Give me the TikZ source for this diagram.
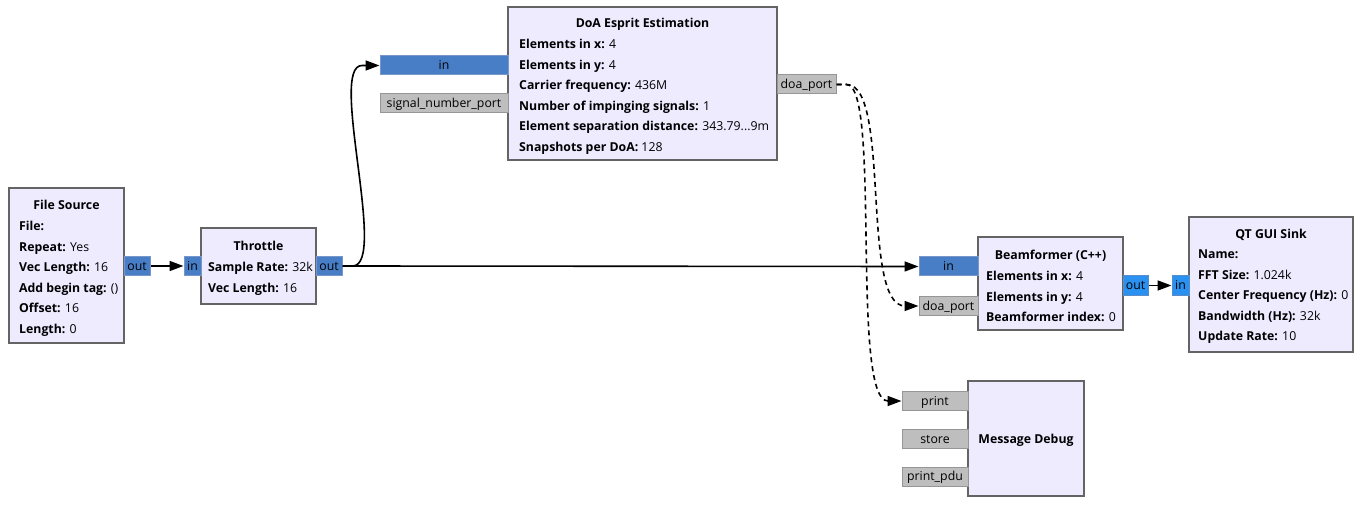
\documentclass[tikz,border=0pt]{standalone}
\usepackage{fontspec}
\setmainfont{Open Sans}
\usetikzlibrary{arrows.meta}
\definecolor{blockfill}{RGB}{238,235,255}
\definecolor{blockdraw}{RGB}{100,100,100}
\definecolor{vecblue}{RGB}{72,126,198}
\definecolor{vecbluedraw}{RGB}{120,150,200}
\definecolor{cblue}{RGB}{42,145,240}
\definecolor{cbluedraw}{RGB}{90,140,200}
\definecolor{msggrey}{RGB}{190,190,190}
\definecolor{msggreydraw}{RGB}{150,150,150}
\tikzset{
  txt/.style={font=\fontsize{12.3}{20.5}\selectfont},
  blockbox/.style={draw=blockdraw, fill=blockfill, line width=1.5pt, rectangle, inner sep=0},
  title/.style={font=\fontsize{12.3}{20.5}\selectfont\bfseries, inner sep=0, anchor=base},
  body/.style={txt, align=left, anchor=north west, inner sep=0},
  port/.style={line width=1pt, inner sep=0, minimum height=19, txt, text height=9.5, text depth=1.5},
  portv/.style={port, draw=vecbluedraw, fill=vecblue},
  portc/.style={port, draw=cbluedraw, fill=cblue},
  portm/.style={port, draw=msggreydraw, fill=msggrey},
  conn/.style={line width=1.6pt, -{Triangle[length=14,width=10]}},
  msgconn/.style={conn, dash pattern=on 5pt off 4pt},
}
\begin{document}
\begin{tikzpicture}[x=1pt,y=-1pt]
\useasboundingbox (0,0) rectangle (1358,505);
% File Source
\node[blockbox, minimum width=115, minimum height=155] (fs) at (66.5,265.5) {};
\node[title] (fst) at (66.5,209.5) {File Source};
\node[body] (fsb) at (19,221) {\textbf{File:}\\\textbf{Repeat:} Yes\\\textbf{Vec Length:} 16\\\textbf{Add begin tag:} ()\\\textbf{Offset:} 16\\\textbf{Length:} 0};
\node[portv, minimum width=26] (fsout) at (137,266) {out};
% Throttle
\node[blockbox, minimum width=115, minimum height=76] (thr) at (258.5,266) {};
\node[title] (thrt) at (258.5,250.5) {Throttle};
\node[body] (thrb) at (208,262) {\textbf{Sample Rate:} 32k\\\textbf{Vec Length:} 16};
\node[portv, minimum width=17] (thrin) at (192.5,266) {in};
\node[portv, minimum width=26] (throut) at (329,266) {out};
% DoA Esprit
\node[blockbox, minimum width=269, minimum height=153] (doa) at (642.5,83.5) {};
\node[title] (doat) at (642.5,27.5) {DoA Esprit Estimation};
\node[body] (doab) at (519,39) {\textbf{Elements in x:} 4\\\textbf{Elements in y:} 4\\\textbf{Carrier frequency:} 436M\\\textbf{Number of impinging signals:} 1\\\textbf{Element separation distance:} 343.79...9m\\\textbf{Snapshots per DoA:} 128};
\node[portv, minimum width=128] (doain) at (444,65.5) {in};
\node[portm, minimum width=128] (doasig) at (444,103.5) {signal\_number\_port};
\node[portm, minimum width=59] (doaout) at (806.5,84.5) {doa\_port};
% Beamformer
\node[blockbox, minimum width=145, minimum height=93] (bf) at (1050.5,283.5) {};
\node[title] (bft) at (1050.5,259.5) {Beamformer (C++)};
\node[body] (bfb) at (986,271) {\textbf{Elements in x:} 4\\\textbf{Elements in y:} 4\\\textbf{Beamformer index:} 0};
\node[portv, minimum width=59] (bfin) at (948.5,266.5) {in};
\node[portm, minimum width=59] (bfdoa) at (948.5,306) {doa\_port};
\node[portc, minimum width=25] (bfout) at (1135.5,285.5) {out};
% QT GUI Sink
\node[blockbox, minimum width=164, minimum height=135] (qt) at (1271,284.5) {};
\node[title] (qtt) at (1271,238.5) {QT GUI Sink};
\node[body] (qtb) at (1198,250) {\textbf{Name:}\\\textbf{FFT Size:} 1.024k\\\textbf{Center Frequency (Hz):} 0\\\textbf{Bandwidth (Hz):} 32k\\\textbf{Update Rate:} 10};
\node[portc, minimum width=17] (qtin) at (1180.5,285.5) {in};
% Message Debug
\node[blockbox, minimum width=116, minimum height=115] (md) at (1026,438.5) {};
\node[title] (mdt) at (1026,443.5) {Message Debug};
\node[portm, minimum width=66] (mdprint) at (935,401) {print};
\node[portm, minimum width=66] (mdstore) at (935,439) {store};
\node[portm, minimum width=66] (mdpdu) at (935,476.5) {print\_pdu};
% connections
\draw[conn] (fsout.east) -- (thrin.west);
\draw[conn] (throut.east) -- (bfin.west);
\draw[conn] (throut.east) -- ++(10,0) .. controls +(36,0) and (328,65.5) .. (362,65.5) -- (doain.west);
\draw[conn] (bfout.east) -- (qtin.west);
\draw[msgconn] (doaout.east) -- ++(10,0) .. controls +(45,0) and (860,306) .. (905,306) -- (bfdoa.west);
\draw[msgconn] (doaout.east) -- ++(10,0) .. controls +(35,0) and (850,401) .. (888,401) -- (mdprint.west);
\end{tikzpicture}
\end{document}
